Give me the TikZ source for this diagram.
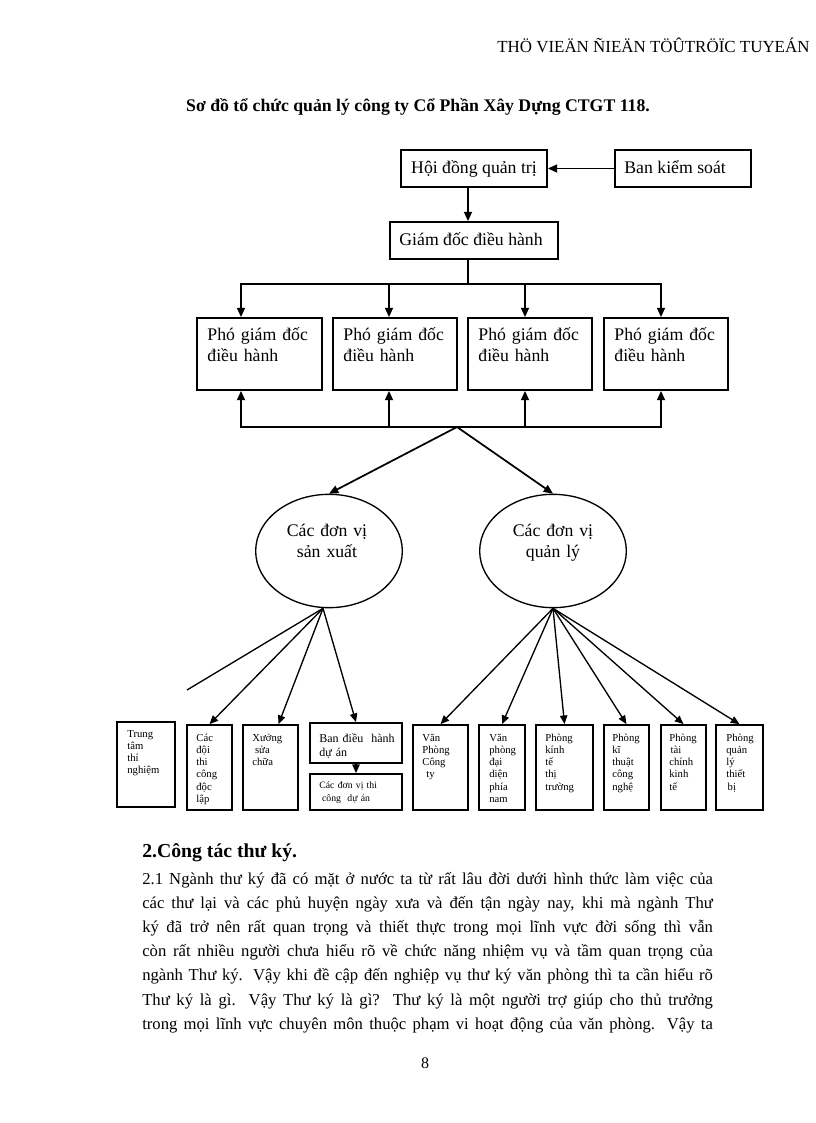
\documentclass[tikz,border=0pt]{standalone}
\usepackage{fontspec}
\setmainfont{Liberation Serif}
\usetikzlibrary{arrows.meta,shapes.geometric,fit}

\newcommand{\bigtxt}{\fontsize{13.3}{15.75}\selectfont}
\newcommand{\smalltxt}{\fontsize{8}{9.2}\selectfont}

\tikzset{
  box/.style={draw, line width=1.3pt, inner sep=0pt},
  ell/.style={draw, ellipse, line width=1pt, inner sep=0pt,
    minimum width=110pt, minimum height=85pt},
  lbl/.style={inner sep=0pt, anchor=base west},
  txt/.style={inner sep=0pt, anchor=base west, align=left, text width=90pt},
  arr/.style={-{Triangle[length=7pt,width=6pt]}, line width=1.3pt},
  arrs/.style={-{Triangle[length=6.5pt,width=5.5pt]}, line width=1pt},
}

\begin{document}
\begin{tikzpicture}[x=0.75pt, y=-0.75pt]
    \useasboundingbox (0,0) rectangle (816,1123);
    \node[lbl, font=\fontsize{12.7}{15}\selectfont] (head) at (497,53) {THÖ VIEÄN ÑIEÄN TÖÛTRÖÏC TUYEÁN};
    \node[inner sep=0pt, anchor=base, font=\fontsize{13.3}{15}\selectfont\bfseries] (title) at (418,112)
      {Sơ đồ tổ chức quản lý công ty Cổ Phần Xây Dựng CTGT 118.};

    \node[box, fit={(401,150) (547,187)}] (hdqt) {};
    \node[box, fit={(615,150) (751,187)}] (bks) {};
    \node[box, fit={(390,222) (558,259)}] (gd) {};
    \node[inner sep=0pt, anchor=base, font=\bigtxt] at ([shift={(0,24)}]hdqt.north) {Hội đồng quản trị};
    \node[lbl, font=\bigtxt] at ([shift={(10,24)}]bks.north west) {Ban kiểm soát};
    \node[lbl, font=\bigtxt] at ([shift={(10,24)}]gd.north west) {Giám đốc điều hành};
    \draw[arr] (bks.west) -- (hdqt.east);
    \draw[arr] ([shift={(-6,0)}]hdqt.south) -- ([shift={(-6,0)}]gd.north);

    \foreach \i/\a/\b in {1/197/322,2/333/457,3/468/592,4/604/728} {
      \node[box, fit={(\a,318) (\b,390)}] (p\i) {};
      \node[txt, font=\bigtxt] at ([shift={(11,23)}]p\i.north west) {Phó giám đốc\\điều hành};
    }
    \coordinate (topbus) at (468,284);
    \coordinate (lowbus) at (457,427);
    \draw[line width=1.3pt] ([shift={(-6,0)}]gd.south) -- (topbus);
    \foreach \i/\dx in {1/-18.5,2/-6,3/-5,4/-5} {
      \draw[arr] (topbus) -| ([shift={(\dx,0)}]p\i.north);
      \draw[arr] (lowbus) -| ([shift={(\dx,0)}]p\i.south);
    }

    \node[ell] (e1) at (329,551) {};
    \node[ell] (e2) at (553,551) {};
    \node[txt, align=center, text width=100pt, anchor=base, font=\bigtxt] at (327,536) {Các đơn vị\\sản xuất};
    \node[txt, align=center, text width=100pt, anchor=base, font=\bigtxt] at (553,536) {Các đơn vị\\quản lý};
    \draw[arr] (lowbus) -- (e1.north);
    \draw[arr] (lowbus) -- (e2.north);

    \node[box, fit={(117,722) (175,807)}] (tt) {};
    \node[txt, font=\smalltxt] at ([shift={(11,16)}]tt.north west) {Trung\\tâm\\thí\\nghiệm};
    \node[box, fit={(187,725) (232,810)}] (doi) {};
    \node[txt, font=\smalltxt] at ([shift={(10,17)}]doi.north west) {Các\\đội\\thi\\công\\độc\\lập};
    \node[box, fit={(243,725) (298,810)}] (xuong) {};
    \node[txt, font=\smalltxt] at ([shift={(10,17)}]xuong.north west) {Xưởng\\\hspace{2pt}sửa\\chữa};
    \node[box, fit={(310,723) (402,763)}] (bdh) {};
    \node[txt, font=\fontsize{9}{10.5}\selectfont] at ([shift={(10,20)}]bdh.north west) {Ban điều\ \ hành\\dự án};
    \node[box, fit={(310,774) (402,810)}] (cdv) {};
    \node[txt, font=\fontsize{7.3}{9.7}\selectfont] at ([shift={(10,15)}]cdv.north west) {Các đơn vị thi\\\hspace{2pt}công\ \ dự án};
    \draw[arrs] (bdh.south) -- (cdv.north);

    \foreach \n/\a/\b/\dx/\t in {vpct/413/468/10/{Văn\\Phòng\\Công\\\hspace{3pt}ty},
        vpdd/479/525/11/{Văn\\phòng\\đại\\diện\\phía\\nam},
        pkt/536/593/10/{Phòng\\kính\\tế\\thị\\trường},
        pkth/604/649/9/{Phòng\\kĩ\\thuật\\công\\nghệ},
        ptc/661/706/9/{Phòng\\\hspace{1pt}tài\\chính\\kinh\\tế},
        pql/716/763/11/{Phòng\\quản\\lý\\thiết\\\hspace{1pt}bị}} {
      \node[box, fit={(\a,725) (\b,810)}] (\n) {};
      \node[txt, font=\smalltxt] at ([shift={(\dx,17)}]\n.north west) {\t};
      \draw[arrs] (e2.south) -- (\n.north);
    }
    \coordinate (loose) at (187,690);
    \draw[line width=1pt] ([shift={(-6,0)}]e1.south) -- (loose);
    \foreach \n/\dx in {doi/0,xuong/8,bdh/0}
      \draw[arrs] ([shift={(-6,0)}]e1.south) -- ([shift={(\dx,0)}]\n.north);

    \node[lbl, font=\fontsize{14.8}{17}\selectfont\bfseries] (sec) at (142,857) {2.Công tác thư ký.};
    \node[txt, text width=428pt, align=justify, font=\fontsize{12.5}{18.15}\selectfont] (body) at (142,884)
      {\hbadness=10000\tolerance=9999\parfillskip=0pt
       2.1 Ngành thư ký đã có mặt ở nước ta từ rất lâu đời dưới hình thức làm việc của\linebreak
       các thư lại và các phủ huyện ngày xưa và đến tận ngày nay, khi mà ngành Thư\linebreak
       ký đã trở nên rất quan trọng và thiết thực trong mọi lĩnh vực đời sống thì vẫn\linebreak
       còn rất nhiều người chưa hiểu rõ về chức năng nhiệm vụ và tầm quan trọng của\linebreak
       ngành Thư ký. Vậy khi đề cập đến nghiệp vụ thư ký văn phòng thì ta cần hiểu rõ\linebreak
       Thư ký là gì. Vậy Thư ký là gì? Thư ký là một người trợ giúp cho thủ trưởng\linebreak
       trong mọi lĩnh vực chuyên môn thuộc phạm vi hoạt động của văn phòng. Vậy ta\par};
    \node[inner sep=0pt, anchor=base, font=\fontsize{12}{14}\selectfont] (pg) at (425,1068) {8};
\end{tikzpicture}
\end{document}
